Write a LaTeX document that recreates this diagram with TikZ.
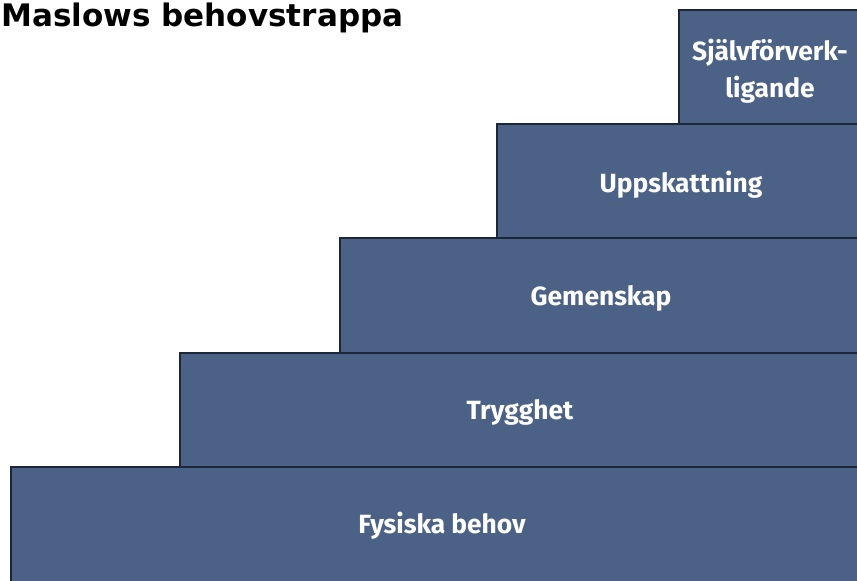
\documentclass[tikz,border=0pt]{standalone}
\usepackage{fontspec}
\setmainfont{Fira Sans}
\newfontfamily\titlefont{DejaVu Sans}
\definecolor{stepblue}{HTML}{4B6286}
\definecolor{stepedge}{HTML}{1B2638}
\tikzset{
  stepbox/.style={fill=stepblue, draw=stepedge, line width=1.5pt},
  steplabel/.style={text=white, align=center, font=\fontsize{22.5}{32}\selectfont\bfseries},
}
\begin{document}
\begin{tikzpicture}[x=0.03cm, y=-0.03cm]
    \useasboundingbox (0,0) rectangle (857,580);
    \clip (0,0) rectangle (857,580);
    \def\stepright{870}

    % Title
    \node[anchor=base west, inner sep=0pt, font=\titlefont\fontsize{26.5}{30}\selectfont\bfseries] (title) at (1,26) {Maslows behovstrappa};

    % The steps, from the bottom up
    \draw[stepbox] (11,467) rectangle (\stepright,600);
    \node[steplabel] (fysiska) at (442,526) {Fysiska behov};

    \draw[stepbox] (180,353) rectangle (\stepright,467);
    \node[steplabel] (trygghet) at (520,412) {Trygghet};

    \draw[stepbox] (340,238) rectangle (\stepright,353);
    \node[steplabel] (gemenskap) at (601,298) {Gemenskap};

    \draw[stepbox] (497,124) rectangle (\stepright,238);
    \node[steplabel] (uppskattning) at (681,185) {Uppskattning};

    \draw[stepbox] (679,10) rectangle (\stepright,124);
    \node[steplabel] (sjalv) at (770,71) {Självförverk-\\ligande};
\end{tikzpicture}
\end{document}
